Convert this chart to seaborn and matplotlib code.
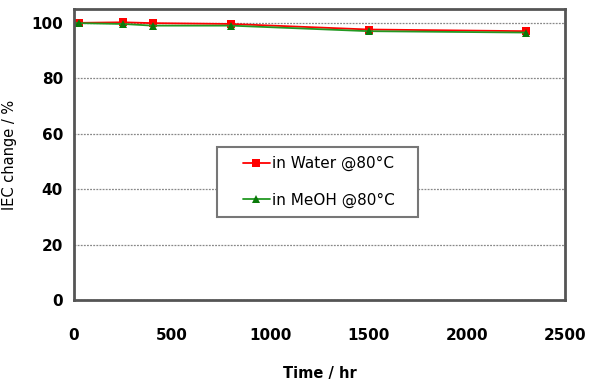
import matplotlib
matplotlib.use("Agg")
import matplotlib.pyplot as plt
from matplotlib.lines import Line2D
from matplotlib.legend_handler import HandlerLine2D
import seaborn as sns
import pandas as pd

time_hr = [0, 24, 250, 400, 800, 1500, 2300]
water = [100.0, 100.0, 100.2, 99.9, 99.6, 97.6, 97.0]
meoh = [100.0, 99.9, 99.6, 99.0, 99.0, 97.0, 96.5]
series_names = ["in Water @80°C", "in MeOH @80°C"]
x_ticks = [0, 500, 1000, 1500, 2000, 2500]
y_ticks = [0, 20, 40, 60, 80, 100]

df = pd.concat([
    pd.DataFrame({"Time": time_hr, "IEC": water, "series": series_names[0]}),
    pd.DataFrame({"Time": time_hr, "IEC": meoh, "series": series_names[1]}),
])

sns.set_style("white")
plt.rcParams['font.family'] = ['DejaVu Sans']
plt.rcParams['text.color'] = 'black'
plt.rcParams['axes.labelcolor'] = 'black'
plt.rcParams['xtick.labelcolor'] = 'black'
plt.rcParams['ytick.labelcolor'] = 'black'

fig = plt.figure(figsize=(5.91, 3.85), dpi=100)
ax = fig.add_axes([74 / 591, 1 - 300 / 385, (565 - 74) / 591, (300 - 9) / 385])

palette = {series_names[0]: "#ff0000", series_names[1]: "#229922"}
markers = {series_names[0]: "s", series_names[1]: "^"}
sns.lineplot(data=df, x="Time", y="IEC", hue="series", style="series",
             palette=palette, markers=markers, dashes=False, markersize=6,
             markeredgewidth=0, linewidth=1.3, ax=ax, legend=False)
ax.lines[1].set_markerfacecolor("#0a7a0a")

ax.set_xlim(0, 2500)
ax.set_ylim(0, 105)
ax.set_xticks(x_ticks)
ax.set_yticks(y_ticks)
ax.set_xticklabels([str(v) for v in x_ticks], fontsize=11, fontweight="bold")
ax.set_yticklabels([str(v) for v in y_ticks], fontsize=11, fontweight="bold")
ax.tick_params(axis="x", direction="in", length=6, width=1.2, color="#999999", pad=20)
ax.tick_params(axis="y", length=0, pad=8)
ax.yaxis.grid(True, color="#888888", linestyle=(0, (1.5, 1)), linewidth=0.9)
ax.xaxis.grid(False)
for s in ax.spines.values():
    s.set_color("#555555")
    s.set_linewidth(2)

ax.set_xlabel("Time / hr", fontsize=10.5, fontweight="bold", labelpad=17)
ax.set_ylabel("IEC change / %", fontsize=10.5, labelpad=10)

handles = [
    Line2D([], [], color="#ff0000", marker="s", markersize=6, markeredgewidth=0, linewidth=1.3),
    Line2D([], [], color="#229922", marker="^", markersize=6, markeredgewidth=0,
           markerfacecolor="#0a7a0a", linewidth=1.3),
]
labels = [n + "   " for n in series_names]
leg = fig.legend(handles, labels, loc="upper left",
                 bbox_to_anchor=(217 / 591, 1 - 147 / 385), bbox_transform=fig.transFigure,
                 borderaxespad=0, frameon=True, fancybox=False, edgecolor="#777777",
                 fontsize=11, handlelength=2.87, handletextpad=0.12, borderpad=0.6,
                 labelspacing=1.4, handler_map={Line2D: HandlerLine2D(xpad=1.1)})
leg.get_frame().set_linewidth(1.5)
leg.get_frame().set_alpha(1)

fig.savefig("out.png", dpi=100)
